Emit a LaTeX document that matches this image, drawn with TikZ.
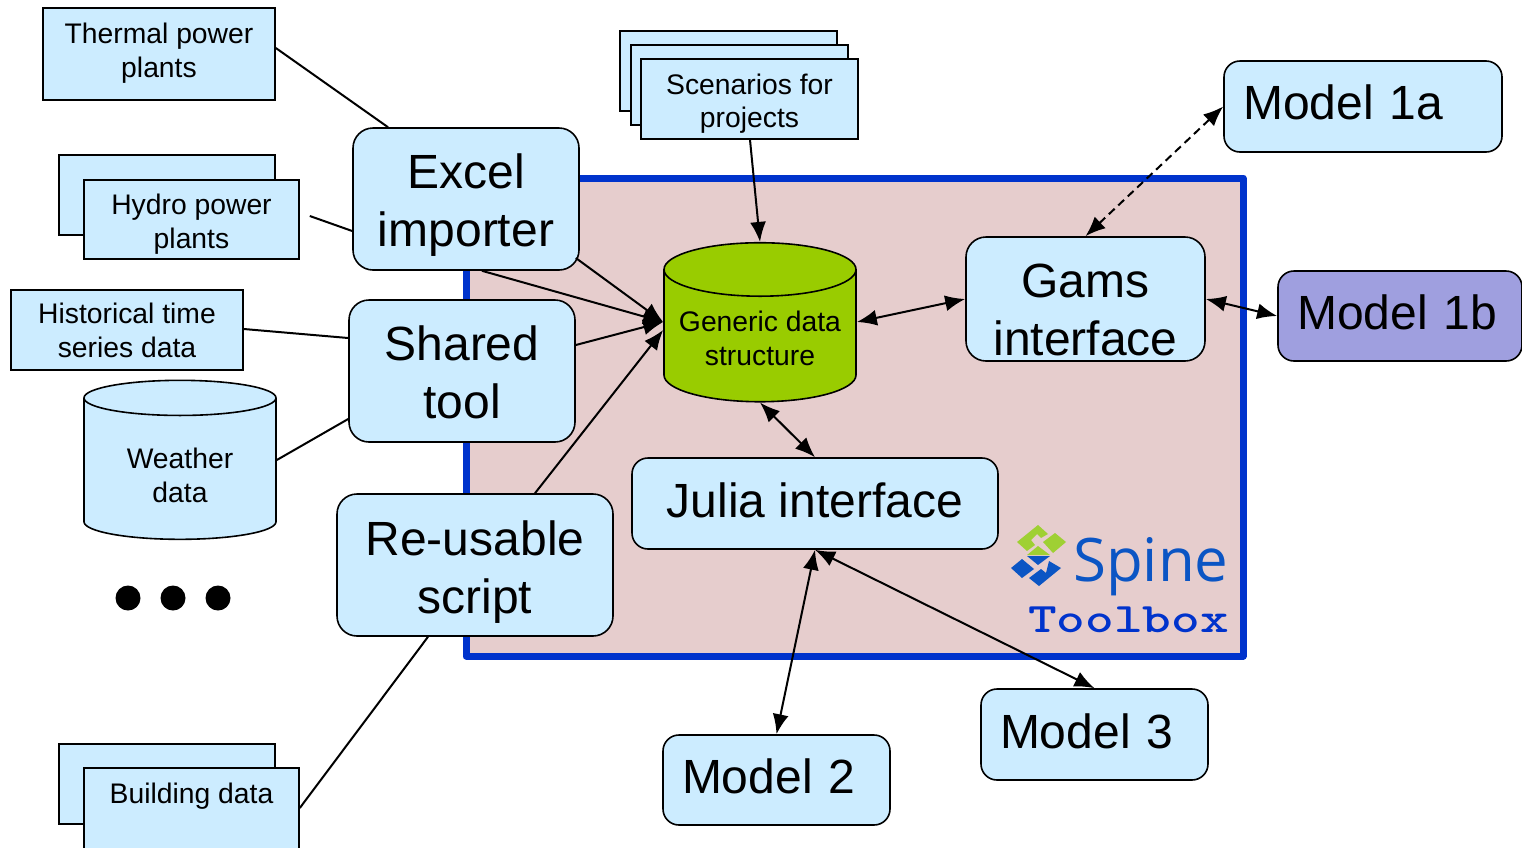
\documentclass[tikz,border=0pt]{standalone}
\usepackage{fontspec}
\setmainfont{Liberation Sans}
\newfontfamily\spinefont{Open Sans}
\usetikzlibrary{shapes.geometric, arrows.meta}
\definecolor{boxblue}{HTML}{CCECFF}
\definecolor{framepink}{HTML}{E6CDCD}
\definecolor{frameblue}{HTML}{0033CC}
\definecolor{dbgreen}{HTML}{99CC00}
\definecolor{modelpurple}{HTML}{9F9FDF}
\definecolor{logogreen}{HTML}{9FD033}
\definecolor{logoblue}{HTML}{0B55C4}
\newcommand{\textdrop}[1]{\rule{0pt}{\dimexpr\fontcharht\font`l+2\dimexpr#1\relax\relax}}
\newcommand{\textrise}[1]{\rule[-#1]{0pt}{0pt}}
\tikzset{
	databox/.style = {rectangle, draw, line width = 1.6pt, fill = boxblue, align = center, inner sep = 0pt, font = \fontsize{28.3}{33.5}\selectfont},
	toolbox/.style = {rectangle, rounded corners = 20pt, draw, line width = 1.6pt, fill = boxblue, align = center, inner sep = 0pt, font = \fontsize{48}{58}\selectfont},
	modelbox/.style = {toolbox, rounded corners = 16pt, inner xsep = 19pt},
	dbcylinder/.style = {cylinder, shape border rotate = 90, aspect = 0.33, draw, line width = 1.6pt, cylinder uses custom fill, cylinder body fill = #1, cylinder end fill = #1, align = center, inner sep = 0pt, minimum width = 192pt, minimum height = 159pt, font = \fontsize{28.3}{33.5}\selectfont},
	link/.style = {line width = 2pt},
	flow/.style = {link, -{Latex[length = 20pt, width = 16pt]}},
	twoway/.style = {link, {Latex[length = 20pt, width = 16pt]}-{Latex[length = 20pt, width = 16pt]}}
}
\begin{document}
\begin{tikzpicture}[x = 1pt, y = -1pt]
	\useasboundingbox (0, 0) rectangle (1522, 847);
	\node[rectangle, draw = frameblue, line width = 7pt, line join = round, fill = framepink, minimum width = 777pt, minimum height = 478pt, inner sep = 0pt] (frame) at (854.5, 417) {};
	% data sources
	\node[databox, minimum width = 232pt, minimum height = 92pt] (thermal) at (159, 54) {Thermal power\\plants\textrise{8pt}};
	\node[databox, minimum width = 216pt, minimum height = 80pt] (hydroback) at (167, 195) {};
	\node[databox, minimum width = 215pt, minimum height = 79pt] (hydro) at (191.5, 219.5) {\textdrop{5pt}Hydro power\\plants};
	\node[databox, minimum width = 232pt, minimum height = 80pt] (historical) at (127, 330) {\textdrop{1pt}Historical time\\series data};
	\node[dbcylinder = boxblue] (weather) at (180, 469) {\textdrop{7pt}Weather\\data};
	\node[databox, minimum width = 216pt, minimum height = 80pt] (buildingback) at (167, 784) {};
	\node[databox, minimum width = 215pt, minimum height = 90pt] (building) at (191.5, 813) {Building data\textrise{39pt}};
	\node[databox, minimum width = 217pt, minimum height = 80pt] (scenarioa) at (728.5, 71) {};
	\node[databox, minimum width = 217pt, minimum height = 80pt] (scenariob) at (739.5, 85) {};
	\node[databox, minimum width = 217pt, minimum height = 80pt] (scenarios) at (749.5, 99) {\textdrop{5pt}Scenarios for\\projects};
	% dots
	\foreach \i/\dotx in {1/128, 2/173, 3/218} {
		\node[circle, fill, minimum size = 25pt, inner sep = 0pt] (dot\i) at (\dotx, 598) {};
	}
	% tools
	\node[toolbox, minimum width = 226pt, minimum height = 142pt] (excel) at (466, 199) {\textdrop{7pt}Excel\\importer};
	\node[toolbox, minimum width = 226pt, minimum height = 142pt] (shared) at (462, 371) {\textdrop{2pt}Shared\\tool};
	\node[toolbox, minimum width = 276pt, minimum height = 142pt] (reusable) at (475, 565) {\textdrop{8pt}Re-usable\\script};
	\node[dbcylinder = dbgreen] (generic) at (760, 336) {\textdrop{3pt}Generic data\\structure};
	\node[toolbox, minimum width = 239pt, minimum height = 124pt] (gams) at (1085.5, 299) {\textdrop{11pt}Gams\\interface};
	\node[modelbox, minimum width = 366pt, minimum height = 91pt] (julia) at (815, 503.5) {\textrise{6pt}Julia interface};
	% models
	\node[modelbox, text width = 240pt, align = left, minimum height = 91pt] (model1a) at (1363, 106.5) {\textrise{9pt}Model 1a};
	\node[modelbox, fill = modelpurple, text width = 206pt, align = left, minimum height = 90pt] (model1b) at (1400, 316) {\textrise{8pt}Model 1b};
	\node[modelbox, text width = 189pt, align = left, minimum height = 91pt] (model3) at (1094.5, 734.5) {\textrise{7pt}Model 3};
	\node[modelbox, text width = 189pt, align = left, minimum height = 90pt] (model2) at (776.5, 780) {\textrise{8pt}Model 2};
	% connectors
	\draw[link] ([yshift = 6pt]thermal.east) -- ([xshift = -78pt]excel.north);
	\draw[link] ([xshift = 10pt, yshift = 3.5pt]hydro.east) -- ([yshift = -32pt]excel.west);
	\draw[link] ([yshift = 1pt]historical.east) -- ([yshift = 33pt]shared.west);
	\draw[link] ([yshift = 9pt]weather.east) -- ([yshift = -48pt]shared.west);
	\draw[link] ([xshift = -47pt]reusable.south) -- ([yshift = 5pt]building.east);
	\draw[flow] ([xshift = -4pt, yshift = -59pt]excel.east) -- ([yshift = 14pt]generic.west);
	\draw[flow] ([xshift = 16pt]excel.south) -- ([yshift = 14pt]generic.west);
	\draw[flow] ([yshift = 26pt]shared.east) -- ([yshift = 14pt]generic.west);
	\draw[flow] ([xshift = 60pt]reusable.north) -- ([yshift = 6pt]generic.west);
	\draw[flow] ([xshift = 0.5pt]scenarios.south) -- (generic.top);
	\draw[twoway, dash pattern = on 8pt off 5pt] (gams.north) -- (model1a.west);
	\draw[twoway] ([yshift = 14pt]generic.east) -- (gams.west);
	\draw[twoway] (gams.east) -- (model1b.west);
	\draw[twoway] (generic.bottom) -- (julia.north);
	\draw[twoway] (julia.south) -- (model2.north);
	\draw[twoway] (julia.south) -- (model3.north);
	% logo
	\fill[logogreen] (1017, 542) -- (1038, 525) -- (1048, 534) -- (1041, 538) -- (1037, 534) -- (1031, 540) -- (1035, 545) -- (1027, 551) -- cycle;
	\fill[logogreen] (1043, 542) -- (1055, 533) -- (1066, 542) -- (1053, 553) -- cycle;
	\fill[logogreen] (1027, 555) -- (1038, 546) -- (1050, 555) -- cycle;
	\fill[logoblue] (1027, 556) -- (1050, 556) -- (1038, 565) -- cycle;
	\fill[logoblue] (1011, 568) -- (1022, 559) -- (1034, 569) -- (1022, 578) -- cycle;
	\fill[logoblue] (1029, 578) -- (1041, 569) -- (1046, 573) -- (1049, 561) -- (1061, 568) -- (1039, 586) -- cycle;
	\node[anchor = base west, inner sep = 0pt, text = logoblue, font = \fontsize{60}{62}\spinefont] (spine) at (1073, 581) {Spine};
	\node[anchor = base west, inner sep = 0pt, text = frameblue, font = \fontsize{42}{44}\ttfamily\bfseries\addfontfeature{FakeBold = 1.5}] (toolboxlabel) at (1028, 632) {\scalebox{1.3}[1]{Toolbox}};
\end{tikzpicture}
\end{document}
